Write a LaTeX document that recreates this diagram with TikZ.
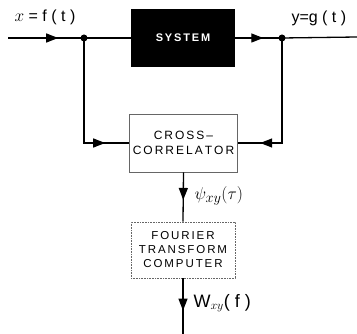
\documentclass[tikz,border=0pt]{standalone}
\usepackage{fontspec}
\setmainfont{Liberation Sans}
\usetikzlibrary{arrows.meta,decorations.markings}
\tikzset{
  conn/.style={line width=1.3pt},
  tipat/.style={postaction={decorate},decoration={markings,
     mark=at position #1 with {\arrow{Triangle[length=12pt,width=9pt]}}}},
  blk/.style={draw=black!60,line width=0.6pt,minimum width=104pt,align=center,font=\fontsize{12}{14.5}\selectfont},
  dot/.style={circle,fill=black,inner sep=0pt,minimum size=7pt},
  lbl/.style={font=\fontsize{16}{18}\selectfont}
}
\begin{document}
\begin{tikzpicture}[x=1pt,y=-1pt]
\useasboundingbox (0,0) rectangle (357,334);
\node[fill=black,minimum width=104pt,minimum height=58pt,text=white,font=\fontsize{11}{13}\selectfont\bfseries] (sys) at (183,38) {S\,Y\,S\,T\,E\,M};
\node[blk,minimum height=58pt] (cc) at (183.5,143) {C\,R\,O\,S\,S\,--\\C\,O\,R\,R\,E\,L\,A\,T\,O\,R};
\node[blk,densely dotted,minimum height=56pt,font=\fontsize{11.5}{14}\selectfont] (ft) at (183,250) {F\,O\,U\,R\,I\,E\,R\\T\,R\,A\,N\,S\,F\,O\,R\,M\\C\,O\,M\,P\,U\,T\,E\,R};
\coordinate (in) at (8,38);
\node[dot] (j1) at (84,38) {};
\node[dot] (j2) at (282,38) {};
\coordinate (out) at (357,37);
\coordinate (bot) at (183,334);
\draw[conn,tipat=0.66] (in) -- (j1.center);
\draw[conn] (j1.center) -- (sys.west);
\draw[conn,tipat=0.6] (sys.east) -- (j2.center);
\draw[conn] (j2.center) -- (out);
\draw[conn,tipat=0.84] (j1.center) |- (cc.west);
\draw[conn,tipat=0.85] (j2.center) |- (cc.east);
\draw[conn,tipat=0.56] (cc.south) -- (ft.north);
\draw[conn,tipat=0.58] (ft.south) -- (bot);
\node[lbl] (lx) at (45,17) {$x$ = f ( t )};
\node[lbl,anchor=west] (ly) at (288,18) {y=g ( t )};
\node[lbl,anchor=west,font=\fontsize{19}{21}\selectfont] (lpsi) at (191,196) {$\psi_{xy}(\tau)$};
\node[lbl,anchor=west,font=\fontsize{18}{20}\selectfont] (lw) at (190,303) {W$_{xy}$( f )};
\end{tikzpicture}
\end{document}
